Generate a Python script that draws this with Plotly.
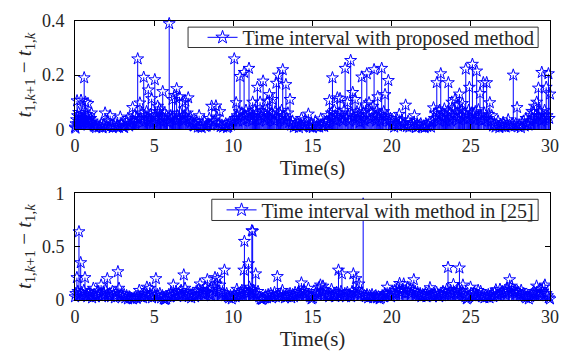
import plotly.graph_objects as go

# ---------------- data: upper panel (proposed method) ----------------
top_time = [
    0.00, 0.03, 0.06, 0.10, 0.13, 0.16, 0.20, 0.23, 0.27, 0.31, 0.35, 0.38, 0.42, 0.46, 0.50, 0.54,
    0.58, 0.62, 0.66, 0.70, 0.74, 0.78, 0.82, 0.86, 0.90, 0.95, 1.00, 1.04, 1.09, 1.14, 1.18,
    1.24, 1.33, 1.41, 1.50, 1.58, 1.66, 1.74, 1.82, 1.90, 1.98, 2.06, 2.14, 2.22, 2.30, 2.38,
    2.46, 2.54, 2.62, 2.70, 2.78, 2.86, 2.94, 3.02, 3.10, 3.18, 3.26, 3.34, 3.42, 3.50, 3.58,
    3.64, 3.70, 3.76, 3.82, 3.88, 3.96, 4.02, 4.10, 4.16, 4.22, 4.28, 4.34, 4.40, 4.46, 4.52,
    4.58, 4.63, 4.70, 4.76, 4.84, 4.90, 4.96, 5.04, 5.10, 5.16, 5.22, 5.28, 5.34, 5.40, 5.46,
    5.54, 5.60, 5.66, 5.72, 5.78, 5.84, 5.95, 6.00, 6.05, 6.10, 6.16, 6.22, 6.29, 6.35, 6.42,
    6.48, 6.54, 6.60, 6.66, 6.72, 6.78, 6.84, 6.90, 6.97, 7.03, 7.09, 7.15, 7.21, 7.28, 7.34,
    7.40, 7.46,
    7.52, 7.60, 7.68, 7.76, 7.84, 7.92, 8.00, 8.08, 8.16, 8.24, 8.32, 8.40, 8.48, 8.56, 8.63,
    8.72, 8.80, 8.90, 8.96, 9.04, 9.15, 9.20, 9.28, 9.36, 9.44, 9.52, 9.60, 9.68, 9.76, 9.84,
    9.92,
    10.00, 10.06, 10.12, 10.18, 10.24, 10.30, 10.36, 10.42, 10.48, 10.54, 10.60, 10.68, 10.74,
    10.80, 10.86, 10.92, 10.99, 11.05, 11.11, 11.17, 11.22, 11.28, 11.34, 11.40, 11.46, 11.52,
    11.58, 11.64, 11.69, 11.75, 11.81, 11.88, 11.94, 12.00, 12.06, 12.12, 12.17, 12.23, 12.28,
    12.34, 12.40, 12.46, 12.52, 12.58, 12.64, 12.72, 12.78, 12.85, 12.92, 12.98, 13.05, 13.12,
    13.18, 13.25, 13.32, 13.38, 13.45, 13.52, 13.58,
    13.66, 13.74, 13.82, 13.90, 13.98, 14.06, 14.14, 14.22, 14.30, 14.38, 14.46, 14.54, 14.62,
    14.74, 14.80, 14.86, 14.94, 15.02, 15.10, 15.18, 15.26, 15.34, 15.42, 15.52, 15.58, 15.66,
    15.74, 15.82,
    15.90, 15.96, 16.02, 16.07, 16.13, 16.19, 16.26, 16.32, 16.38, 16.44, 16.50, 16.57, 16.62,
    16.68, 16.74, 16.80, 16.86, 16.92, 16.99, 17.06, 17.12, 17.20, 17.26, 17.32, 17.41, 17.47,
    17.54, 17.60, 17.69, 17.75, 17.81, 17.87, 17.93, 17.99, 18.05, 18.11, 18.17, 18.23, 18.29,
    18.36, 18.43, 18.50, 18.57, 18.63, 18.69, 18.75, 18.82, 18.89, 18.95, 19.01, 19.06, 19.12,
    19.18, 19.24, 19.30, 19.37, 19.43, 19.50, 19.58, 19.64, 19.70, 19.79, 19.85, 19.92,
    20.00, 20.08, 20.16, 20.24, 20.32, 20.40, 20.48, 20.56, 20.64, 20.72, 20.80, 20.88, 20.96,
    21.04, 21.12, 21.20, 21.28, 21.36, 21.44, 21.52, 21.60, 21.68, 21.76, 21.84, 21.92, 22.00,
    22.08, 22.16, 22.24, 22.32, 22.40, 22.48, 22.56,
    22.64, 22.70, 22.76, 22.85, 22.91, 22.97, 23.03, 23.10, 23.16, 23.22, 23.28, 23.33, 23.40,
    23.46, 23.52, 23.58, 23.64, 23.70, 23.75, 23.80, 23.86, 23.92, 24.00, 24.06, 24.12, 24.18,
    24.23, 24.28, 24.34, 24.40, 24.47, 24.53, 24.60, 24.68, 24.74, 24.80, 24.86, 24.91, 24.97,
    25.03, 25.10, 25.16, 25.22, 25.28, 25.37, 25.43, 25.48, 25.53, 25.58, 25.64, 25.70, 25.79,
    25.85, 25.91, 26.00, 26.06, 26.12, 26.20, 26.26, 26.32,
    26.40, 26.48, 26.56, 26.64, 26.72, 26.80, 26.88, 26.96, 27.04, 27.12, 27.20, 27.28, 27.36,
    27.44, 27.52, 27.60, 27.68, 27.76, 27.84, 27.92, 28.00, 28.08, 28.16, 28.24, 28.32, 28.40,
    28.48, 28.56, 28.64,
    28.72, 28.78, 28.85, 28.91, 28.96, 29.02, 29.08, 29.16, 29.22, 29.27, 29.33, 29.38, 29.44,
    29.48, 29.54, 29.60, 29.66, 29.72, 29.76, 29.82, 29.90, 29.95, 30.00,
]
top_interval = [
    0.008, 0.004, 0.020, 0.035, 0.105, 0.050, 0.020, 0.062, 0.030, 0.045, 0.015, 0.107, 0.040, 0.058, 0.025, 0.035,
    0.190, 0.040, 0.100, 0.030, 0.055, 0.020, 0.095, 0.035, 0.050, 0.025, 0.040, 0.060, 0.030, 0.020, 0.012,
    0.010, 0.006, 0.015, 0.008, 0.012, 0.020, 0.005, 0.018, 0.060, 0.010, 0.030, 0.008, 0.050, 0.015, 0.006,
    0.012, 0.025, 0.009, 0.014, 0.007, 0.045, 0.020, 0.010, 0.006, 0.015, 0.030, 0.040, 0.012, 0.020, 0.035,
    0.080, 0.030, 0.050, 0.020, 0.040, 0.260, 0.035, 0.097, 0.040, 0.060, 0.025, 0.192, 0.050, 0.030, 0.065,
    0.040, 0.145, 0.030, 0.055, 0.113, 0.040, 0.025, 0.183, 0.050, 0.035, 0.085, 0.065, 0.075, 0.030, 0.045,
    0.139, 0.040, 0.060, 0.030, 0.050, 0.025, 0.390, 0.035, 0.050, 0.040, 0.110, 0.045, 0.125, 0.030, 0.150,
    0.050, 0.035, 0.120, 0.060, 0.040, 0.098, 0.030, 0.050, 0.104, 0.040, 0.060, 0.116, 0.035, 0.045, 0.025,
    0.030, 0.015,
    0.012, 0.020, 0.030, 0.008, 0.050, 0.010, 0.006, 0.018, 0.030, 0.010, 0.012, 0.020, 0.040, 0.015, 0.085,
    0.025, 0.030, 0.086, 0.045, 0.020, 0.065, 0.010, 0.015, 0.008, 0.012, 0.020, 0.006, 0.010, 0.025, 0.015,
    0.030,
    0.030, 0.260, 0.040, 0.098, 0.050, 0.030, 0.065, 0.195, 0.040, 0.060, 0.030, 0.210, 0.050,
    0.070, 0.035, 0.055, 0.225, 0.040, 0.060, 0.030, 0.100, 0.050, 0.070, 0.035, 0.060, 0.155,
    0.045, 0.030, 0.100, 0.050, 0.065, 0.178, 0.040, 0.055, 0.030, 0.070, 0.104, 0.045, 0.128,
    0.035, 0.060, 0.110, 0.050, 0.030, 0.065, 0.170, 0.040, 0.200, 0.060, 0.035, 0.070, 0.220,
    0.050, 0.030, 0.165, 0.040, 0.060, 0.025, 0.110,
    0.015, 0.030, 0.008, 0.020, 0.012, 0.025, 0.006, 0.018, 0.040, 0.010, 0.020, 0.035, 0.015,
    0.056, 0.012, 0.008, 0.020, 0.006, 0.015, 0.030, 0.010, 0.018, 0.008, 0.038, 0.012, 0.020,
    0.010, 0.025,
    0.030, 0.050, 0.020, 0.106, 0.040, 0.060, 0.190, 0.035, 0.070, 0.050, 0.030, 0.116, 0.045,
    0.060, 0.113, 0.035, 0.050, 0.030, 0.070, 0.225, 0.040, 0.099, 0.050, 0.030, 0.254, 0.060,
    0.136, 0.045, 0.110, 0.030, 0.065, 0.040, 0.055, 0.025, 0.070, 0.193, 0.040, 0.060, 0.030,
    0.090, 0.205, 0.050, 0.098, 0.035, 0.060, 0.040, 0.085, 0.220, 0.045, 0.030, 0.070, 0.120,
    0.040, 0.055, 0.030, 0.225, 0.050, 0.065, 0.128, 0.035, 0.050, 0.180, 0.030, 0.040,
    0.015, 0.030, 0.008, 0.020, 0.040, 0.012, 0.055, 0.025, 0.035, 0.015, 0.020, 0.089, 0.010,
    0.030, 0.008, 0.020, 0.012, 0.025, 0.050, 0.006, 0.018, 0.010, 0.015, 0.020, 0.008, 0.012,
    0.006, 0.020, 0.010, 0.015, 0.025, 0.008, 0.030,
    0.079, 0.040, 0.060, 0.172, 0.050, 0.030, 0.070, 0.205, 0.045, 0.060, 0.035, 0.075, 0.050,
    0.030, 0.065, 0.172, 0.040, 0.060, 0.030, 0.100, 0.050, 0.070, 0.110, 0.040, 0.060, 0.090,
    0.035, 0.130, 0.050, 0.070, 0.095, 0.040, 0.060, 0.222, 0.050, 0.035, 0.070, 0.155, 0.040,
    0.060, 0.240, 0.050, 0.035, 0.065, 0.215, 0.045, 0.072, 0.035, 0.132, 0.050, 0.030, 0.172,
    0.060, 0.035, 0.172, 0.040, 0.055, 0.098, 0.030, 0.050,
    0.012, 0.020, 0.008, 0.015, 0.030, 0.006, 0.018, 0.010, 0.025, 0.012, 0.008, 0.020, 0.035,
    0.015, 0.010, 0.020, 0.200, 0.012, 0.020, 0.080, 0.010, 0.015, 0.006, 0.020, 0.030, 0.012,
    0.040, 0.020, 0.015,
    0.030, 0.050, 0.066, 0.040, 0.060, 0.085, 0.035, 0.100, 0.050, 0.152, 0.040, 0.065, 0.030,
    0.210, 0.050, 0.035, 0.070, 0.040, 0.155, 0.050, 0.205, 0.040, 0.130,
]

# ---------------- data: lower panel (method in [25]) ----------------
bottom_time = [
    0.00, 0.05, 0.12, 0.18, 0.25, 0.30, 0.36, 0.42, 0.50, 0.56, 0.63, 0.70, 0.78, 0.86, 0.93,
    1.00, 1.08, 1.16, 1.24, 1.32, 1.40, 1.48, 1.56, 1.65, 1.70, 1.78, 1.86, 1.94,
    2.04, 2.12, 2.20, 2.28, 2.36, 2.44, 2.52, 2.60, 2.71, 2.78, 2.86, 2.94,
    3.02, 3.10, 3.18, 3.26, 3.34, 3.42, 3.50, 3.58, 3.66, 3.74, 3.82, 3.90, 3.98,
    4.06, 4.14, 4.22, 4.30, 4.38, 4.46, 4.54, 4.62, 4.72, 4.78, 4.86, 4.94,
    5.02, 5.11, 5.20, 5.28, 5.36, 5.44, 5.52, 5.60, 5.68, 5.76, 5.84, 5.92,
    6.00, 6.08, 6.14, 6.21, 6.30, 6.38, 6.46, 6.54, 6.62, 6.70, 6.78, 6.87, 6.95,
    7.02, 7.10, 7.18, 7.26, 7.34, 7.42, 7.50, 7.58, 7.66, 7.74, 7.82, 7.90, 7.98,
    8.06, 8.14, 8.22, 8.30, 8.36, 8.44, 8.52, 8.60, 8.68, 8.76, 8.84, 8.92,
    9.00, 9.08, 9.16, 9.24, 9.32, 9.44, 9.50, 9.58, 9.66, 9.74, 9.82, 9.90, 9.98,
    10.06, 10.14, 10.22, 10.30, 10.38, 10.46, 10.54, 10.60, 10.66, 10.70, 10.78, 10.86, 10.96, 11.02,
    11.06, 11.10, 11.17, 11.22, 11.28, 11.34, 11.41, 11.48, 11.56, 11.64, 11.72, 11.80, 11.88, 11.96,
    12.04, 12.12, 12.20, 12.28, 12.36, 12.44, 12.52, 12.60, 12.68, 12.78, 12.86, 12.94,
    13.02, 13.10, 13.18, 13.26, 13.34, 13.42, 13.50, 13.58, 13.66, 13.74, 13.82, 13.90, 13.98,
    14.06, 14.14, 14.22, 14.30, 14.38, 14.46, 14.54, 14.62, 14.74, 14.80, 14.86, 14.94,
    15.02, 15.10, 15.18, 15.26, 15.34, 15.42, 15.50, 15.58, 15.66, 15.74, 15.82, 15.90, 15.98,
    16.06, 16.14, 16.20, 16.28, 16.36, 16.44, 16.52, 16.58, 16.64, 16.74, 16.80, 16.86, 16.96,
    17.04, 17.12, 17.20, 17.28, 17.36, 17.44, 17.50, 17.58, 17.64, 17.75, 17.82, 17.88, 17.94,
    18.04, 18.10, 18.20, 18.28, 18.36, 18.44, 18.52, 18.60, 18.68, 18.76, 18.84, 18.92,
    19.00, 19.08, 19.16, 19.24, 19.32, 19.40, 19.48, 19.56, 19.64, 19.72, 19.80, 19.88, 19.96,
    20.04, 20.12, 20.20, 20.28, 20.36, 20.44, 20.50, 20.60, 20.68, 20.76, 20.84, 20.92,
    21.00, 21.08, 21.16, 21.24, 21.32, 21.40, 21.48, 21.56, 21.64, 21.72, 21.80, 21.88, 21.96,
    22.04, 22.12, 22.20, 22.28, 22.36, 22.42, 22.52, 22.60, 22.68, 22.76, 22.84, 22.92,
    23.00, 23.08, 23.16, 23.24, 23.32, 23.40, 23.48, 23.56, 23.64, 23.72, 23.80, 23.90, 23.96,
    24.04, 24.12, 24.20, 24.28, 24.34, 24.42, 24.50, 24.58, 24.66, 24.74, 24.82, 24.90, 24.98,
    25.06, 25.14, 25.22, 25.30, 25.38, 25.46, 25.54, 25.62, 25.70, 25.78, 25.86, 25.94,
    26.02, 26.10, 26.18, 26.26, 26.34, 26.42, 26.50, 26.58, 26.66, 26.74, 26.84, 26.90, 26.98,
    27.06, 27.14, 27.22, 27.30, 27.38, 27.45, 27.56, 27.62, 27.70, 27.78, 27.86, 27.94,
    28.02, 28.10, 28.18, 28.26, 28.34, 28.42, 28.50, 28.58, 28.66, 28.74, 28.82, 28.90, 28.98,
    29.06, 29.15, 29.20, 29.28, 29.36, 29.44, 29.52, 29.60, 29.68, 29.76, 29.84, 29.92, 30.00,
]
bottom_interval = [
    0.03, 0.06, 0.21, 0.08, 0.64, 0.05, 0.35, 0.07, 0.04, 0.09, 0.21, 0.05, 0.03, 0.07, 0.04,
    0.06, 0.02, 0.11, 0.05, 0.03, 0.08, 0.04, 0.06, 0.14, 0.03, 0.07, 0.05, 0.09,
    0.20, 0.04, 0.06, 0.03, 0.08, 0.05, 0.02, 0.07, 0.265, 0.11, 0.04, 0.06,
    0.03, 0.05, 0.02, 0.04, 0.01, 0.03, 0.02, 0.015, 0.01, 0.02, 0.03, 0.015, 0.04,
    0.09, 0.03, 0.05, 0.02, 0.06, 0.04, 0.12, 0.03, 0.11, 0.05, 0.02, 0.07,
    0.04, 0.20, 0.05, 0.03, 0.06, 0.02, 0.04, 0.01, 0.005, 0.01, 0.03, 0.05,
    0.03, 0.07, 0.04, 0.14, 0.05, 0.08, 0.03, 0.06, 0.04, 0.09, 0.05, 0.235, 0.11,
    0.04, 0.07, 0.03, 0.05, 0.02, 0.06, 0.04, 0.03, 0.08, 0.05, 0.10, 0.15, 0.06,
    0.09, 0.05, 0.12, 0.07, 0.19, 0.06, 0.10, 0.04, 0.08, 0.12, 0.21, 0.15,
    0.20, 0.08, 0.14, 0.05, 0.07, 0.28, 0.04, 0.06, 0.03, 0.02, 0.04, 0.01, 0.03,
    0.05, 0.03, 0.10, 0.06, 0.04, 0.07, 0.09, 0.05, 0.28, 0.55, 0.08, 0.06, 0.34, 0.12,
    0.07, 0.10, 0.65, 0.645, 0.09, 0.06, 0.245, 0.05, 0.08, 0.03, 0.01, 0.005, 0.01, 0.02,
    0.04, 0.02, 0.05, 0.03, 0.06, 0.02, 0.04, 0.07, 0.03, 0.22, 0.05, 0.03,
    0.06, 0.09, 0.04, 0.02, 0.05, 0.03, 0.04, 0.06, 0.02, 0.05, 0.03, 0.07, 0.04,
    0.06, 0.08, 0.05, 0.16, 0.07, 0.09, 0.05, 0.06, 0.11, 0.04, 0.03, 0.01,
    0.02, 0.04, 0.06, 0.08, 0.05, 0.12, 0.14, 0.07, 0.13, 0.05, 0.09, 0.04, 0.06,
    0.03, 0.05, 0.10, 0.04, 0.06, 0.03, 0.07, 0.04, 0.28, 0.05, 0.08, 0.245, 0.04,
    0.06, 0.03, 0.07, 0.04, 0.05, 0.03, 0.08, 0.245, 0.06, 0.20, 0.10, 0.06, 0.15,
    0.05, 0.07, 0.90, 0.04, 0.03, 0.05, 0.02, 0.04, 0.03, 0.05, 0.02, 0.03,
    0.04, 0.02, 0.03, 0.01, 0.02, 0.04, 0.03, 0.06, 0.05, 0.12, 0.04, 0.06, 0.03,
    0.07, 0.05, 0.09, 0.06, 0.11, 0.08, 0.155, 0.07, 0.10, 0.15, 0.06, 0.09,
    0.12, 0.07, 0.10, 0.06, 0.09, 0.19, 0.08, 0.05, 0.07, 0.04, 0.06, 0.03, 0.05,
    0.04, 0.06, 0.03, 0.05, 0.08, 0.115, 0.05, 0.03, 0.06, 0.04, 0.07, 0.05,
    0.03, 0.06, 0.04, 0.08, 0.05, 0.07, 0.10, 0.305, 0.06, 0.09, 0.05, 0.145, 0.07,
    0.05, 0.08, 0.10, 0.30, 0.06, 0.09, 0.14, 0.05, 0.03, 0.01, 0.02, 0.04, 0.12,
    0.06, 0.04, 0.07, 0.03, 0.05, 0.09, 0.04, 0.08, 0.03, 0.05, 0.02, 0.04,
    0.03, 0.05, 0.02, 0.04, 0.06, 0.03, 0.07, 0.095, 0.05, 0.04, 0.10, 0.06, 0.08,
    0.06, 0.09, 0.07, 0.11, 0.08, 0.19, 0.13, 0.10, 0.07, 0.09, 0.06, 0.08,
    0.07, 0.05, 0.09, 0.04, 0.06, 0.03, 0.02, 0.04, 0.01, 0.03, 0.05, 0.06, 0.08,
    0.05, 0.13, 0.07, 0.04, 0.10, 0.06, 0.08, 0.12, 0.14, 0.06, 0.04, 0.02, 0.01,
]

legend_top = "Time interval with proposed method"
legend_bottom = "Time interval with method in [25]"
x_ticks = [0, 5, 10, 15, 20, 25, 30]
top_yticks = [0, 0.2, 0.4]
top_yticklabels = ["0", "0.2", "0.4"]
bottom_yticks = [0, 0.5, 1]
bottom_yticklabels = ["0", "0.5", "1"]

BLUE = "#0000ff"
FONT = "Liberation Serif"
TXT = "#262626"

fig = go.Figure()


def add_panel(t, v, xa, ya, name, legend):
    fig.add_trace(go.Scatter(
        x=t, y=v, mode="markers", xaxis=xa, yaxis=ya, showlegend=False,
        marker=dict(symbol="star-open", size=9, color=BLUE, line=dict(width=1, color=BLUE)),
        error_y=dict(type="data", symmetric=False, array=[0] * len(v), arrayminus=v,
                     width=0, color=BLUE, thickness=1),
        cliponaxis=False, hoverinfo="x+y",
    ))
    fig.add_trace(go.Scatter(
        x=[None], y=[None], mode="lines+markers", xaxis=xa, yaxis=ya, name=name,
        legend=legend, showlegend=True,
        line=dict(color=BLUE, width=1),
        marker=dict(symbol="star-open", size=10, color=BLUE, line=dict(width=1, color=BLUE)),
    ))


add_panel(top_time, top_interval, "x", "y", legend_top, "legend")
add_panel(bottom_time, bottom_interval, "x2", "y2", legend_bottom, "legend2")

ytitle = "<i>t</i><sub>1,<i>k</i>+1</sub> − <i>t</i><sub>1,<i>k</i></sub>"

axis_common = dict(
    showline=True, linecolor="black", linewidth=1, mirror="ticks",
    ticks="inside", ticklen=5, tickcolor="black", showgrid=False, zeroline=False,
    tickfont=dict(family=FONT, size=18, color=TXT),
)
yaxis_common = dict(axis_common, ticklabelstandoff=6)

# legend frames (white boxes with thin border), in paper coordinates
legend_frames = [
    dict(x0=0.238, x1=0.975, y0=0.905, y1=0.978),
    dict(x0=0.288, x1=0.975, y0=0.285, y1=0.361),
]
shapes = [dict(type="rect", xref="paper", yref="paper", layer="above",
               fillcolor="white", line=dict(color="#333", width=1), **f)
          for f in legend_frames]

legend_common = dict(xanchor="right", yanchor="middle", bgcolor="rgba(0,0,0,0)",
                     borderwidth=0, font=dict(family=FONT, size=20, color=TXT),
                     tracegroupgap=0, itemwidth=30)

fig.update_layout(
    width=577, height=354,
    margin=dict(l=75, r=27, t=11, b=52),
    paper_bgcolor="white", plot_bgcolor="white",
    font=dict(family=FONT, color=TXT),
    shapes=shapes,
    xaxis=dict(domain=[0, 1], anchor="y", range=[0, 30], tickvals=x_ticks,
               title=dict(text="Time(s)", font=dict(family=FONT, size=21), standoff=2),
               **axis_common),
    yaxis=dict(domain=[0.612, 1], anchor="x", range=[0, 0.4], tickvals=top_yticks,
               ticktext=top_yticklabels,
               title=dict(text=ytitle, font=dict(family=FONT, size=21), standoff=4),
               **yaxis_common),
    xaxis2=dict(domain=[0, 1], anchor="y2", range=[0, 30], tickvals=x_ticks,
                title=dict(text="Time(s)", font=dict(family=FONT, size=21), standoff=2),
                **axis_common),
    yaxis2=dict(domain=[0, 0.382], anchor="x2", range=[0, 1], tickvals=bottom_yticks,
                ticktext=bottom_yticklabels,
                title=dict(text=ytitle, font=dict(family=FONT, size=21), standoff=4),
                **yaxis_common),
    legend=dict(x=0.978, y=0.9415, **legend_common),
    legend2=dict(x=0.978, y=0.323, **legend_common),
    showlegend=True,
)

fig.write_html("out.html")
